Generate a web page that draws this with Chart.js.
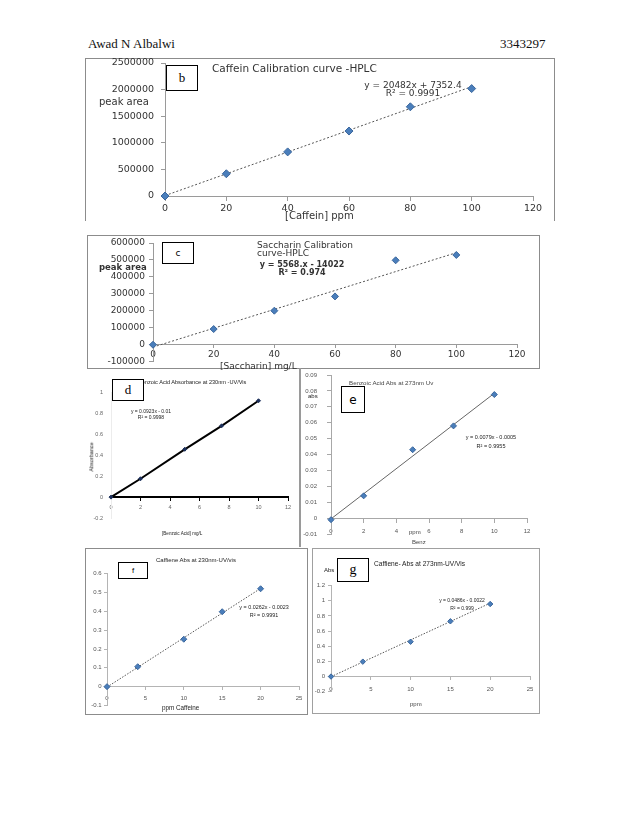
<!DOCTYPE html>
<html>
<head>
<meta charset="utf-8">
<script src="https://cdn.jsdelivr.net/npm/chart.js@4.4.1/dist/chart.umd.min.js"></script>
<style>
  html, body { margin: 0; padding: 0; background: #fff; }
  #page { position: relative; width: 638px; height: 826px; overflow: hidden; }
  canvas { position: absolute; }
  .frame { position: absolute; box-sizing: border-box; border: 1px solid #8c8c8c; }
  .txt { position: absolute; white-space: nowrap; color: #222; line-height: 1; }
  .dv { font-family: "DejaVu Sans", sans-serif; color: #333; }
  .ls { font-family: "Liberation Sans", Arial, sans-serif; }
  .tag { position: absolute; box-sizing: border-box; border: 1px solid #000; background: #fff; color: #000;
         display: flex; align-items: center; justify-content: center; z-index: 2; }
</style>
</head>
<body>
<div id="page">
  <div class="txt" style="left:88px;top:36px;font:13px 'Liberation Serif',serif;color:#111">Awad N Albalwi</div>
  <div class="txt" style="left:500px;top:36px;font:13px 'Liberation Serif',serif;color:#111">3343297</div>

  <!-- frames -->
  <div class="frame" style="left:85px;top:58px;width:470px;height:163px;border-bottom:none"></div>
  <div class="frame" style="left:87px;top:235px;width:453px;height:134px"></div>
  <div class="frame" style="left:299px;top:368px;width:2px;height:179px;border:none;background:#9a9a9a"></div>
  <div class="frame" style="left:85px;top:548px;width:223px;height:167px"></div>
  <div class="frame" style="left:312px;top:548px;width:228px;height:166px;border-color:#a0a0a0"></div>

  <canvas id="chart-b" width="470" height="162" style="left:85px;top:58px;width:470px;height:162px"></canvas>
  <canvas id="chart-c" width="453" height="135" style="left:87px;top:235px;width:453px;height:135px"></canvas>
  <canvas id="chart-d" width="214" height="176" style="left:85px;top:370px;width:214px;height:176px"></canvas>
  <canvas id="chart-e" width="238" height="178" style="left:302px;top:368px;width:238px;height:178px"></canvas>
  <canvas id="chart-f" width="223" height="167" style="left:85px;top:548px;width:223px;height:167px"></canvas>
  <canvas id="chart-g" width="228" height="166" style="left:312px;top:548px;width:228px;height:166px"></canvas>

  <!-- b -->
  <div class="tag" style="left:166px;top:65px;width:32px;height:26px;font:13px 'Liberation Serif',serif">b</div>
  <div class="txt dv" style="left:212px;top:63px;font-size:10.5px">Caffein Calibration curve -HPLC</div>
  <div class="txt dv" style="left:358px;top:80.5px;font-size:9px;width:110px;text-align:center">y = 20482x + 7352.4</div>
  <div class="txt dv" style="left:358px;top:88.5px;font-size:9px;width:110px;text-align:center">R² = 0.9991</div>
  <div class="txt dv" style="left:99px;top:97px;font-size:10px">peak area</div>
  <div class="txt dv" style="left:285px;top:211px;font-size:10px">[Caffein] ppm</div>

  <!-- c -->
  <div class="tag" style="left:162px;top:242px;width:32px;height:22px;font:9px 'DejaVu Sans',sans-serif">c</div>
  <div class="txt dv" style="left:257px;top:240.5px;font-size:9px">Saccharin Calibration</div>
  <div class="txt dv" style="left:257px;top:248.5px;font-size:9px">curve-HPLC</div>
  <div class="txt dv" style="left:250px;top:261px;font-size:8px;font-weight:bold;width:104px;text-align:center">y = 5568.x - 14022</div>
  <div class="txt dv" style="left:250px;top:269px;font-size:8px;font-weight:bold;width:104px;text-align:center">R² = 0.974</div>
  <div class="txt dv" style="left:99px;top:263px;font-size:8.5px;font-weight:bold">peak area</div>
  <div class="txt dv" style="left:220px;top:361.5px;font-size:9px">[Saccharin] mg/L</div>

  <!-- d -->
  <div class="txt ls" style="left:138px;top:380px;font-size:5.6px">Benzoic Acid Absorbance at 230nm -UV/Vis</div>
  <div class="tag" style="left:112px;top:379px;width:32px;height:22px;font:13px 'Liberation Serif',serif">d</div>
  <div class="txt ls" style="left:126px;top:408.5px;font-size:5px;width:50px;text-align:center">y = 0.0923x - 0.01</div>
  <div class="txt ls" style="left:126px;top:414.5px;font-size:5px;width:50px;text-align:center">R² = 0.9998</div>
  <div class="txt ls" style="left:72px;top:454px;font-size:5.5px;width:40px;text-align:center;transform:rotate(-90deg)">Absorbance</div>
  <div class="txt ls" style="left:162px;top:531.5px;font-size:4.6px">[Benzoic Acid] mg/L</div>

  <!-- e -->
  <div class="txt ls" style="left:349px;top:380px;font-size:6.2px;color:#444">Benzoic Acid Abs at 273nm Uv</div>
  <div class="tag" style="left:341px;top:386px;width:24px;height:27px;font:12px 'DejaVu Sans',sans-serif">e</div>
  <div class="txt ls" style="left:308px;top:393px;font-size:6px">abs</div>
  <div class="txt ls" style="left:463px;top:434.5px;font-size:5.5px;width:56px;text-align:center">y = 0.0079x - 0.0005</div>
  <div class="txt ls" style="left:463px;top:443.5px;font-size:5.5px;width:56px;text-align:center">R² = 0.9955</div>
  <div class="txt ls" style="left:409px;top:529px;font-size:6px;color:#444">ppm</div>
  <div class="txt ls" style="left:412px;top:539px;font-size:6px;color:#444">Benz</div>

  <!-- f -->
  <div class="tag" style="left:118px;top:562px;width:30px;height:17px;font:8px 'Liberation Sans',sans-serif">f</div>
  <div class="txt ls" style="left:156px;top:557px;font-size:6px">Caffiene Abs at 230nm-UV/vis</div>
  <div class="txt ls" style="left:236px;top:605.3px;font-size:5.4px;width:56px;text-align:center">y = 0.0262x - 0.0023</div>
  <div class="txt ls" style="left:236px;top:613.3px;font-size:5.4px;width:56px;text-align:center">R² = 0.9991</div>
  <div class="txt ls" style="left:162px;top:705.3px;font-size:6.3px">ppm Caffeine</div>

  <!-- g -->
  <div class="tag" style="left:337px;top:558px;width:32px;height:24px;font:14px 'Liberation Serif',serif">g</div>
  <div class="txt ls" style="left:374px;top:560.7px;font-size:6.6px">Caffiene- Abs at 273nm-UV/Vis</div>
  <div class="txt ls" style="left:324px;top:567px;font-size:6px">Abs</div>
  <div class="txt ls" style="left:437px;top:597.5px;font-size:5px;width:50px;text-align:center">y = 0.0486x - 0.0022</div>
  <div class="txt ls" style="left:437px;top:605.5px;font-size:5px;width:50px;text-align:center">R² = 0.999</div>
  <div class="txt ls" style="left:410px;top:701px;font-size:6px;color:#444">ppm</div>
</div>

<script>
// b: caffeine, HPLC
const caffHplcConc = [0, 20, 40, 60, 80, 100];
const caffHplcArea = [0, 418000, 829000, 1221000, 1677000, 2019000];
const caffHplcFit = [20482, 7352.4];          // slope, intercept
const caffHplcXTicks = [0, 120, 20];          // min, max, step
const caffHplcYTicks = [0, 2500000, 500000];

// c: saccharin, HPLC
const sacHplcConc = [0, 20, 40, 60, 80, 100];
const sacHplcArea = [0, 92500, 200800, 285000, 498000, 529500];
const sacHplcFit = [5568, -14022];
const sacHplcXTicks = [0, 120, 20];
const sacHplcYTicks = [-100000, 600000, 100000];

// d: benzoic acid, UV 230nm
const benzUv230Conc = [0, 2, 5, 7.5, 10];
const benzUv230Abs = [0, 0.176, 0.458, 0.683, 0.923];
const benzUv230XTicks = [0, 12, 2];
const benzUv230YTicks = [-0.2, 1, 0.2];

// e: benzoic acid, UV 273nm
const benzUv273Conc = [0, 2, 5, 7.5, 10];
const benzUv273Abs = [-0.001, 0.014, 0.043, 0.058, 0.0777];
const benzUv273Fit = [0.0079, -0.0005];
const benzUv273XTicks = [0, 12, 2];
const benzUv273YTicks = [-0.01, 0.09, 0.01];

// f: caffeine, UV 230nm
const caffUv230Conc = [0, 4, 10, 15, 20];
const caffUv230Abs = [0, 0.106, 0.252, 0.398, 0.52];
const caffUv230Fit = [0.0262, -0.0023];
const caffUv230XTicks = [0, 25, 5];
const caffUv230YTicks = [-0.1, 0.6, 0.1];

// g: caffeine, UV 273nm
const caffUv273Conc = [0, 4, 10, 15, 20];
const caffUv273Abs = [0, 0.197, 0.46, 0.73, 0.958];
const caffUv273Fit = [0.0486, -0.0022];
const caffUv273XTicks = [0, 25, 5];
const caffUv273YTicks = [-0.2, 1.2, 0.2];

Chart.defaults.font.family = "'Liberation Sans', Arial, sans-serif";

const fmt = v => String(Math.round(v * 10000) / 10000);

// end points of the printed trend line over the measured range
function fitEnds(fit, x) {
  const x0 = x[0], x1 = x[x.length - 1];
  return [{x: x0, y: fit[0] * x0 + fit[1]}, {x: x1, y: fit[0] * x1 + fit[1]}];
}

function newCalChart(id, o) {
  const datasets = [{
    data: o.x.map((x, i) => ({x: x, y: o.y[i]})),
    pointStyle: o.pointStyle || 'rectRot',
    pointRadius: o.pointRadius,
    pointBackgroundColor: o.pointColor || '#4a7ebb',
    pointBorderColor: o.pointBorder || '#3a669c',
    pointBorderWidth: 1,
    showLine: !!o.lineColor,
    borderColor: o.lineColor,
    borderWidth: o.lineWidth || 1,
    order: 1,
    clip: false
  }];
  if (o.fit) {
    datasets.push({
      data: fitEnds(o.fit, o.x),
      showLine: true,
      pointRadius: 0,
      borderColor: o.fitColor || '#555',
      borderWidth: 1,
      borderDash: o.fitDash || [],
      order: 2,
      clip: false
    });
  }

  const tickFont = {size: o.tickSize, family: o.tickFamily};
  return new Chart(document.getElementById(id), {
    type: 'scatter',
    data: {datasets: datasets},
    options: {
      responsive: false,
      animation: false,
      events: [],
      layout: {padding: o.pad},
      plugins: {legend: {display: false}, tooltip: {enabled: false}},
      scales: {
        x: {
          type: 'linear',
          position: {y: 0},
          min: o.xTicks[0], max: o.xTicks[1],
          ticks: {stepSize: o.xTicks[2], font: tickFont, color: o.tickColor, padding: o.xtp, callback: fmt, maxRotation: 0, autoSkip: false},
          grid: {drawOnChartArea: false, tickLength: o.xtl, color: o.xAxisColor || o.axisColor},
          border: {color: o.xAxisColor || o.axisColor, width: o.xAxisWidth || 1},
          afterFit: s => { s.paddingLeft = 0; s.paddingRight = 0; }
        },
        y: {
          type: 'linear',
          min: o.yTicks[0], max: o.yTicks[1],
          ticks: {stepSize: o.yTicks[2], font: tickFont, color: o.tickColor, padding: o.ytp, callback: fmt, autoSkip: false},
          grid: {drawOnChartArea: false, tickLength: o.ytl, color: o.axisColor},
          border: {color: o.yAxisColor || o.axisColor},
          // fixed axis width, and keep the plot edges where the padding puts them
          afterFit: s => { s.width = o.yWidth; s.paddingTop = 0; s.paddingBottom = 0; }
        }
      }
    }
  });
}

// b
newCalChart('chart-b', {
  x: caffHplcConc, y: caffHplcArea, fit: caffHplcFit, fitDash: [2, 2],
  xTicks: caffHplcXTicks, yTicks: caffHplcYTicks,
  pointRadius: 4, tickSize: 9.5, tickFamily: "'DejaVu Sans', sans-serif", tickColor: '#333',
  axisColor: '#9a9a9a', pad: {left: 0, top: 5, right: 22, bottom: 24},
  yWidth: 80, ytl: 4, ytp: 7, xtl: 4, xtp: 3.3
});

// c
newCalChart('chart-c', {
  x: sacHplcConc, y: sacHplcArea, fit: sacHplcFit, fitDash: [2, 2],
  xTicks: sacHplcXTicks, yTicks: sacHplcYTicks,
  pointRadius: 3.5, tickSize: 9, tickFamily: "'DejaVu Sans', sans-serif", tickColor: '#333',
  axisColor: '#9a9a9a', pad: {left: 0, top: 8, right: 23, bottom: 8.3},
  yWidth: 66, ytl: 4, ytp: 4, xtl: 3, xtp: 2
});

// d
newCalChart('chart-d', {
  x: benzUv230Conc, y: benzUv230Abs, lineColor: '#000', lineWidth: 2,
  pointStyle: 'rectRot', pointColor: '#1c2f5a', pointBorder: '#1c2f5a',
  xTicks: benzUv230XTicks, yTicks: benzUv230YTicks,
  pointRadius: 2, tickSize: 5.5, tickColor: '#666',
  axisColor: '#000', yAxisColor: '#ececec', xAxisWidth: 2,
  pad: {left: 0, top: 22.7, right: 11, bottom: 28},
  yWidth: 26, ytl: 0, ytp: 8, xtl: 3, xtp: 3.7
});

// e
newCalChart('chart-e', {
  x: benzUv273Conc, y: benzUv273Abs, fit: benzUv273Fit, fitColor: '#666',
  xTicks: benzUv273XTicks, yTicks: benzUv273YTicks,
  pointRadius: 3, tickSize: 6, tickColor: '#555',
  axisColor: '#a8a8a8', pad: {left: 0, top: 7, right: 13, bottom: 12},
  yWidth: 29, ytl: 4, ytp: 10, xtl: 4, xtp: 5.4
});

// f
newCalChart('chart-f', {
  x: caffUv230Conc, y: caffUv230Abs, fit: caffUv230Fit, fitDash: [1.5, 1.5],
  xTicks: caffUv230XTicks, yTicks: caffUv230YTicks,
  pointRadius: 3, tickSize: 6, tickColor: '#555',
  axisColor: '#b4b4b4', pad: {left: 0, top: 25.7, right: 9, bottom: 9.5},
  yWidth: 22, ytl: 3, ytp: 2.3, xtl: 3, xtp: 4.7
});

// g
newCalChart('chart-g', {
  x: caffUv273Conc, y: caffUv273Abs, fit: caffUv273Fit, fitDash: [1.5, 1.5],
  xTicks: caffUv273XTicks, yTicks: caffUv273YTicks,
  pointRadius: 2.7, tickSize: 6, tickColor: '#555',
  axisColor: '#b4b4b4', pad: {left: 0, top: 37.7, right: 10, bottom: 22.3},
  yWidth: 19, ytl: 3, ytp: 3, xtl: 3, xtp: 6.1
});
</script>
</body>
</html>
